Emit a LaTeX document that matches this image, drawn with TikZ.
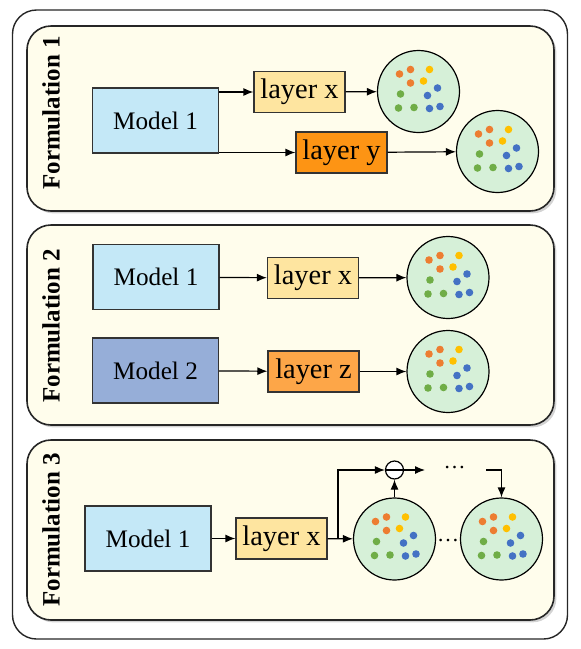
\documentclass[tikz,border=0pt]{standalone}
\usepackage{fontspec}
\setmainfont{Liberation Serif}
\usetikzlibrary{arrows.meta,shadows}

\definecolor{creme}{RGB}{255,253,236}
\definecolor{bleuclair}{RGB}{196,232,247}
\definecolor{bleufonce}{RGB}{150,174,216}
\definecolor{jaunepale}{RGB}{254,229,160}
\definecolor{orangevif}{RGB}{253,148,20}
\definecolor{orangedoux}{RGB}{253,166,72}
\definecolor{vertpale}{RGB}{214,240,216}
\definecolor{ptorange}{RGB}{237,125,49}
\definecolor{ptjaune}{RGB}{255,192,0}
\definecolor{ptvert}{RGB}{112,173,71}
\definecolor{ptbleu}{RGB}{68,114,196}

% les points colores dans un groupe
\newcommand{\semis}[1]{%
  \foreach \dx/\dy/\col in {-19/-17.5/ptorange,-8/-22/ptorange,-8/-8.5/ptorange,
      11/-22/ptjaune,5/-10.5/ptjaune,
      -18/2.5/ptvert,-20/16.5/ptvert,-4.5/16/ptvert,
      19/-3.5/ptbleu,9/4/ptbleu,11/17/ptbleu,21.5/15/ptbleu}
    \fill[\col] ([shift={(\dx,\dy)}]#1.center) circle[radius=1.9pt];}

\begin{document}
\begin{tikzpicture}[
       x=0.5pt,y=-0.5pt,
       cadre/.style={
         draw=black!85,
         line width=0.7pt,
         rounded corners=12pt
       },
       panneau/.style={
         draw=black!85,
         line width=0.8pt,
         fill=creme,
         rounded corners=12pt,
         drop shadow={shadow xshift=1.2pt,shadow yshift=-1.2pt,opacity=0.35}
       },
       modele/.style={
         draw=black!80,
         line width=0.6pt,
         minimum width=63pt,
         minimum height=32.5pt,
         font=\fontsize{12.6}{15}\selectfont
       },
       couche/.style={
         draw=black!80,
         line width=0.6pt,
         inner sep=0pt,
         minimum width=45.5pt,
         minimum height=20.5pt,
         font=\fontsize{14.2}{16}\selectfont
       },
       groupe/.style={
         circle,
         draw=black,
         line width=0.6pt,
         fill=vertpale,
         inner sep=0pt,
         minimum size=41pt
       },
       titre/.style={
         rotate=90,
         font=\bfseries\fontsize{12.5}{15}\selectfont
       },
       fleche/.style={
         -{Latex[length=5pt,width=4pt]},
         line width=0.6pt
       }
     ]

       \useasboundingbox (0,0) rectangle (581,649);

       \draw[cadre] (12.5,10) rectangle (567.5,639);
       \draw[panneau] (27,26) rectangle (554,211);
       \draw[panneau] (27,225) rectangle (554,425);
       \draw[panneau] (27,440) rectangle (554,620);

       % Formulation 1
       \node (f1) at (51,113) [titre]{Formulation 1};
       \node (m1a) at (155.5,120.5) [modele,fill=bleuclair]{Model 1};
       \node (lxa) at (299.5,92) [couche,fill=jaunepale]{layer x};
       \node (lya) at (341.5,152.5) [couche,fill=orangevif]{layer y};
       \node (ca1) at (418.5,91.5) [groupe]{};
       \node (ca2) at (497.5,151.5) [groupe]{};
       \semis{ca1}
       \semis{ca2}

       \draw[fleche] (m1a.east |- lxa) -- (lxa);
       \draw[fleche] (m1a.east |- lya) -- (lya);
       \draw[fleche] (lxa) -- (ca1);
       \draw[fleche] (lya) -- (ca2);

       % Formulation 2
       \node (f2) at (51,326) [titre]{Formulation 2};
       \node (m1b) at (156,277) [modele,fill=bleuclair]{Model 1};
       \node (m2b) at (155.5,370.5) [modele,fill=bleufonce]{Model 2};
       \node (lxb) at (313,278) [couche,fill=jaunepale]{layer x};
       \node (lzb) at (313.5,371.5) [couche,fill=orangedoux]{layer z};
       \node (cb1) at (448,277.5) [groupe]{};
       \node (cb2) at (448,371.5) [groupe]{};
       \semis{cb1}
       \semis{cb2}

       \draw[fleche] (m1b) -- (lxb);
       \draw[fleche] (m2b) -- (lzb);
       \draw[fleche] (lxb) -- (cb1);
       \draw[fleche] (lzb) -- (cb2);

       % Formulation 3
       \node (f3) at (51,530) [titre]{Formulation 3};
       \node (m1c) at (148,538.5) [modele,fill=bleuclair]{Model 1};
       \node (lxc) at (281.5,538.5) [couche,fill=jaunepale]{layer x};
       \node (cc1) at (394.5,539) [groupe]{};
       \node (cc2) at (501.5,539) [groupe]{};
       \semis{cc1}
       \semis{cc2}
       \node (moins) at (394.5,470) [circle,draw,fill=white,line width=0.6pt,inner sep=0pt,minimum size=9pt]{};
       \draw[line width=0.6pt] (moins.west) -- (moins.east);
       \node (pt1) at (454.5,468) [font=\fontsize{11}{13}\selectfont]{\dots};
       \node (pt2) at (448,541) [font=\fontsize{11}{13}\selectfont]{\dots};
       \coordinate (fourche) at (338,538.5);
       \coordinate (suite) at (425,470);
       \coordinate (reprise) at (486,470);

       \draw[fleche] (m1c) -- (lxc);
       \draw[fleche] (lxc) -- (cc1);
       \draw[fleche] (fourche) |- (moins);
       \draw[fleche] (cc1) -- (moins);
       \draw[fleche] (moins) -- (suite);
       \draw[fleche] (reprise) -| (cc2);

\end{tikzpicture}
\end{document}
